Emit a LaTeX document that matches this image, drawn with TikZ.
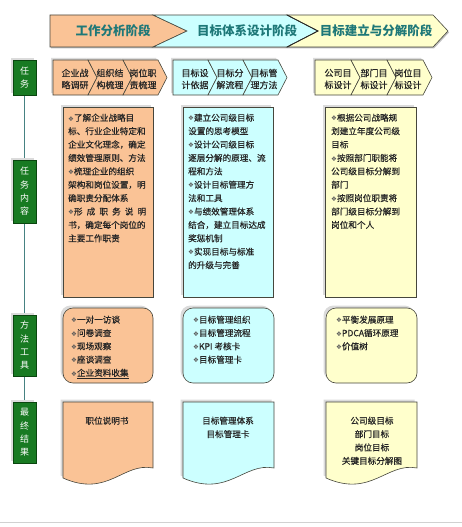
\documentclass[tikz,border=0pt]{standalone}
\usepackage{fontspec}
\newfontfamily\cjk[FakeBold=0.5]{Noto Sans CJK SC}
\newfontfamily\cjkb{Noto Sans CJK SC}
\newfontfamily\dejavu{DejaVu Sans}
\definecolor{orangefill}{RGB}{250,195,150}
\definecolor{cyanfill}{RGB}{204,255,255}
\definecolor{yellowfill}{RGB}{255,255,204}
\definecolor{greenfill}{RGB}{24,122,34}
\definecolor{greenline}{RGB}{10,70,15}
\definecolor{bannertext}{RGB}{30,120,120}
\definecolor{stemline}{RGB}{70,130,130}
\definecolor{edgecol}{RGB}{70,70,60}
\newcommand\bul{{\dejavu\fontsize{6.5pt}{13.4pt}\selectfont\color{black!65}❖}}
\newcommand\chevgroup[4]{% x0, w, color, shadow
  \foreach \k in {0,1,2}{
    \pgfmathsetmacro\xa{#1+\k*#2}
    \pgfmathsetmacro\xb{#1+(\k+1)*#2}
    \pgfmathsetmacro\xt{\xb+9}
    \pgfmathsetmacro\xn{\k==0 ? \xa : \xa+9}
    \fill[shadowfill,shift={(-2,-2)}] (\xa,60) -- (\xb,60) -- (\xt,77.5) -- (\xb,95) -- (\xa,95) -- (\xn,77.5) -- cycle;
  }
  \foreach \k in {0,1,2}{
    \pgfmathsetmacro\xa{#1+\k*#2}
    \pgfmathsetmacro\xb{#1+(\k+1)*#2}
    \pgfmathsetmacro\xt{\xb+9}
    \pgfmathsetmacro\xn{\k==0 ? \xa : \xa+9}
    \draw[boxedge,fill=#3] (\xa,60) -- (\xb,60) -- (\xt,77.5) -- (\xb,95) -- (\xa,95) -- (\xn,77.5) -- cycle;
  }
}
\newcommand\tallbox[3]{%
  \fill[shadowfill,shift={(-2.5,-2.5)}] (#1,107) rectangle (#2,297);
  \draw[boxedge,fill=#3] (#1,107) rectangle (#2,297);
}
\newcommand\roundbox[3]{%
  \fill[shadowfill,rounded corners=10pt,shift={(-2.5,-2.5)}] (#1,308) rectangle (#2,383);
  \draw[boxedge,fill=#3,rounded corners=10pt] (#1,308) rectangle (#2,383);
}
\newcommand\docbox[3]{%
  \fill[shadowfill,shift={(-2.5,-2.5)}] (#1,402) -- (#2,402) -- (#2,468) .. controls ({#2-30},462) and ({#1+45},498) .. (#1,478) -- cycle;
  \draw[boxedge,fill=#3] (#1,402) -- (#2,402) -- (#2,468) .. controls ({#2-30},462) and ({#1+45},498) .. (#1,478) -- cycle;
}
\newcommand\greenlabel[4]{% name, ytop, ybottom, text
  \fill[shadowfill,shift={(-2,-2)}] (13,#2) rectangle (36,#3);
  \draw[draw=greenline,line width=0.8pt,fill=greenfill] (13,#2) rectangle (36,#3);
  \node[labeltext] (#1) at (24.5,{(#2+#3)/2}) {#4};
}
\tikzset{
  shadowfill/.style={fill=black!14},
  boxedge/.style={draw=edgecol,line width=0.6pt},
  bannerfont/.style={font=\cjkb\bfseries\fontsize{12.5pt}{14pt}\selectfont,text=bannertext,inner sep=0pt},
  chevtext/.style={font=\cjk\fontsize{9pt}{12pt}\selectfont,text=black!85,inner sep=0pt,align=center},
  labeltext/.style={font=\cjkb\fontsize{9pt}{13.3pt}\selectfont,text=white,inner sep=0pt,align=center},
  bodytext/.style={font=\cjk\fontsize{8.6pt}{13.4pt}\selectfont,text=black!85,inner sep=0pt,align=left,anchor=north west},
  midtext/.style={font=\cjk\fontsize{8.6pt}{13.3pt}\selectfont,text=black!85,inner sep=0pt,align=left,anchor=north west},
  endtext/.style={font=\cjk\fontsize{8.6pt}{13.4pt}\selectfont,text=black!85,inner sep=0pt,align=center,anchor=north},
}
\begin{document}
\begin{tikzpicture}[x=1pt,y=-1pt]
\useasboundingbox (0,0) rectangle (462,527);
\fill[white] (0,0) rectangle (462,527);
\draw[black!18,line width=0.8pt] (0,522) -- (462,522);

% banner
\fill[black!25,shift={(1,1.5)}] (50,15) -- (433,15) -- (448,31) -- (433,47) -- (50,47) -- cycle;
\draw[boxedge,fill=orangefill] (50,15) -- (153,15) -- (187,31) -- (153,47) -- (50,47) -- cycle;
\draw[boxedge,fill=cyanfill] (153,15) -- (287,15) -- (318,31) -- (287,47) -- (153,47) -- (187,31) -- cycle;
\draw[boxedge,fill=yellowfill] (287,15) -- (433,15) -- (448,31) -- (433,47) -- (287,47) -- (318,31) -- cycle;
\draw[black!85,line width=0.8pt] (287,15) -- (318,31) -- (287,47);
\node[bannerfont] (ph1) at (113,31) {工作分析阶段};
\node[bannerfont] (ph2) at (247,31) {目标体系设计阶段};
\node[bannerfont] (ph3) at (376,31) {目标建立与分解阶段};

% left stem and labels
\coordinate (stemtop) at (24.5,95);
\coordinate (stembot) at (24.5,402);
\draw[stemline,line width=1.2pt] (stemtop) -- (stembot);
\greenlabel{lab1}{60}{95}{任\\[-0.5pt]务}
\greenlabel{lab2}{160}{223}{任\\务\\内\\容}
\greenlabel{lab3}{315}{376}{方\\法\\工\\具}
\greenlabel{lab4}{402}{463}{最\\终\\结\\果}

% row 1 chevrons
\chevgroup{53}{35}{orangefill}{}
\chevgroup{173}{35}{cyanfill}{}
\chevgroup{315}{36}{yellowfill}{}
\node[chevtext] (t11) at (75,79) {企业战\\略调研};
\node[chevtext] (t12) at (110,79) {组织结\\构梳理};
\node[chevtext] (t13) at (143,79) {岗位职\\责梳理};
\node[chevtext] (t21) at (195,79) {目标设\\计依据};
\node[chevtext] (t22) at (230,79) {目标分\\解流程};
\node[chevtext] (t23) at (264,79) {目标管\\理方法};
\node[chevtext] (t31) at (338,79) {公司目\\标设计};
\node[chevtext] (t32) at (374,79) {部门目\\标设计};
\node[chevtext] (t33) at (408,79) {岗位目\\标设计};

% row 2 tall boxes
\tallbox{63}{153}{orangefill}
\tallbox{183}{273}{cyanfill}
\tallbox{325}{416}{yellowfill}
\node[bodytext] (c1) at (68,113.5) {\bul 了解企业战略目\\
标、行业企业特定和\\
企业文化理念，确定\\
绩效管理原则、方法\\
\bul 梳理企业的组织\\
架构和岗位设置，明\\
确职责分配体系\\
\makebox[78pt][l]{\bul 形\hfill 成\hfill 职\hfill 务\hfill 说\hfill 明}\\
书，确定每个岗位的\\
主要工作职责};
\node[bodytext] (c2) at (188,113.5) {\bul 建立公司级目标\\
设置的思考模型\\
\bul 设计公司级目标\\
逐层分解的原理、流\\
程和方法\\
\bul 设计目标管理方\\
法和工具\\
\bul 与绩效管理体系\\
结合，建立目标达成\\
奖惩机制\\
\bul 实现目标与标准\\
的升级与完善};
\node[bodytext] (c3) at (331,113.5) {\bul 根据公司战略规\\
划建立年度公司级\\
目标\\
\bul 按照部门职能将\\
公司级目标分解到\\
部门\\
\bul 按照岗位职责将\\
部门级目标分解到\\
岗位和个人};

% row 3 rounded boxes
\roundbox{63}{153}{orangefill}
\roundbox{183}{274}{cyanfill}
\roundbox{326}{417}{yellowfill}
\node[midtext] (m1) at (71,315.5) {\bul 一对一访谈\\
\bul 问卷调查\\
\bul 现场观察\\
\bul 座谈调查\\
\bul \underline{企业资料收集}};
\node[midtext] (m2) at (193,315.5) {\bul 目标管理组织\\
\bul 目标管理流程\\
\bul KPI 考核卡\\
\bul 目标管理卡};
\node[midtext] (m3) at (336,315.5) {\bul 平衡发展原理\\
\bul PDCA循环原理\\
\bul 价值树};

% row 4 document boxes
\docbox{63}{153}{orangefill}
\docbox{183}{274}{cyanfill}
\docbox{326}{417}{yellowfill}
\node[endtext] (e1) at (107,416.5) {职位说明书};
\node[endtext] (e2) at (228,416.5) {目标管理体系\\目标管理卡};
\node[endtext] (e3) at (372,416.5) {公司级目标\\部门目标\\岗位目标\\关键目标分解图};
\end{tikzpicture}
\end{document}
